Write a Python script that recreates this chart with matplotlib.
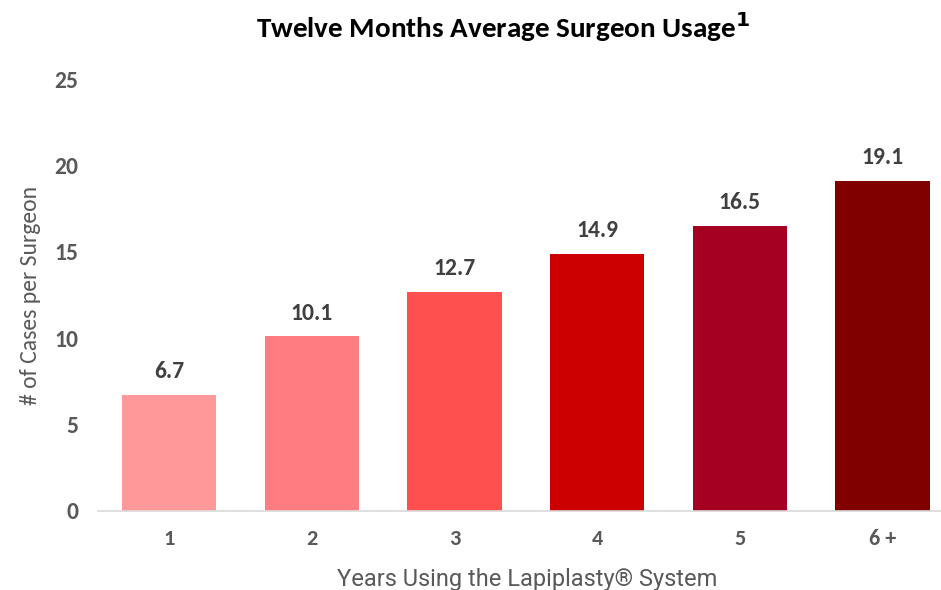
import matplotlib
matplotlib.use("Agg")
import matplotlib.pyplot as plt
from matplotlib import font_manager

categories = ["1", "2", "3", "4", "5", "6 +"]
values = [6.7, 10.1, 12.7, 14.9, 16.5, 19.1]
colors = ["#FF9999", "#FF7C80", "#FF5050", "#CC0000", "#A50021", "#800000"]
yticks = [0, 5, 10, 15, 20, 25]

names = {f.name for f in font_manager.fontManager.ttflist}
bold_family = ["Carlito", "Open Sans", "DejaVu Sans"]
bold_family = [f for f in bold_family if f in names] or ["DejaVu Sans"]
narrow_family = [f for f in ["Liberation Sans Narrow", "Roboto", "Liberation Sans"] if f in names] or ["DejaVu Sans"]

gray = "#595959"
fig = plt.figure(figsize=(9.41, 5.90), dpi=100)
ax = fig.add_axes([0.104, 0.134, 0.896, 0.732])

x = list(range(len(categories)))
bars = ax.bar(x, values, width=0.66, color=colors, zorder=2)
for xi, v in zip(x, values):
    ax.text(xi, v + 0.75, f"{v:.1f}", ha="center", va="bottom", fontsize=17,
            fontweight="bold", color="#404040", family=bold_family)

ax.set_xlim(-0.5, 5.41)
ax.set_ylim(0, 25)
ax.set_yticks(yticks)
ax.set_yticklabels([str(t) for t in yticks], fontsize=17, fontweight="bold",
                   color=gray, family=bold_family)
ax.set_xticks(x)
ax.set_xticklabels(categories, fontsize=16, fontweight="bold", color=gray,
                   family=bold_family)
ax.tick_params(axis="y", length=0, pad=14)
ax.tick_params(axis="x", length=0, pad=13)
for s in ["top", "right", "left"]:
    ax.spines[s].set_visible(False)
ax.spines["bottom"].set_color("#D9D9D9")
ax.spines["bottom"].set_linewidth(1.2)

ax.set_ylabel("# of Cases per Surgeon", fontsize=17, color=gray,
              family=bold_family, labelpad=10)
fig.text(0.56, 0.018, "Years Using the Lapiplasty® System", ha="center",
         va="center", fontsize=17, color=gray, family=narrow_family)
fig.text(0.535, 0.955, r"Twelve Months Average Surgeon Usage$^{\mathbf{1}}$",
         ha="center", va="center", fontsize=21, fontweight="bold",
         color="black", family=bold_family)

fig.savefig("out.png", dpi=100)
